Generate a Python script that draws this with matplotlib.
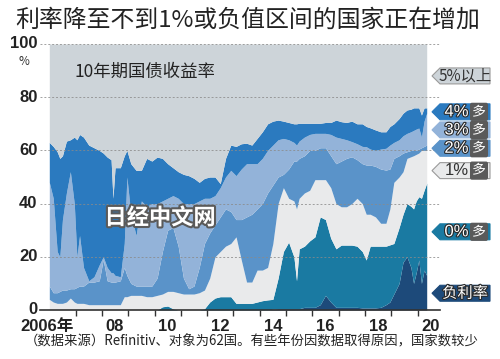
import numpy as np
import matplotlib
matplotlib.use("Agg")
import matplotlib.pyplot as plt
import matplotlib.patheffects as pe
from matplotlib.transforms import blended_transform_factory
from matplotlib.patches import Polygon

plt.rcParams['font.family'] = ['Noto Sans CJK SC', 'DejaVu Sans']

# DATA: share of countries (%), cumulative tops of each yield band
years = [2006.0, 2006.15, 2006.3, 2006.4, 2006.5, 2006.65, 2006.8, 2006.95,
         2007.05, 2007.15, 2007.3, 2007.5, 2007.7, 2007.9, 2008.05, 2008.2,
         2008.35, 2008.42, 2008.5, 2008.7, 2008.85, 2008.95, 2009.1, 2009.3,
         2009.5, 2009.7, 2009.9, 2010.1, 2010.3, 2010.5, 2010.7, 2010.9,
         2011.1, 2011.3, 2011.5, 2011.7, 2011.9, 2012.1, 2012.3, 2012.5,
         2012.7, 2012.9, 2013.1, 2013.3, 2013.5, 2013.7, 2013.9, 2014.1,
         2014.3, 2014.5, 2014.7, 2014.9, 2015.1, 2015.3, 2015.4, 2015.5,
         2015.7, 2015.9, 2016.1, 2016.3, 2016.5, 2016.7, 2016.9, 2017.1,
         2017.3, 2017.5, 2017.7, 2017.9, 2018.05, 2018.2, 2018.4, 2018.6,
         2018.8, 2018.95, 2019.1, 2019.3, 2019.45, 2019.6, 2019.75, 2019.85,
         2019.95, 2020.05, 2020.15, 2020.25, 2020.35]

neg_top = [0, 0, 0, 0, 0, 0, 0, 0,
           0, 0, 0, 0, 0, 0, 0, 0,
           0, 0, 0, 0, 0, 0, 0, 0,
           0, 0, 0, 0, 0, 0, 0, 0,
           0, 0, 0, 0, 0, 0, 0, 0,
           0, 0, 0, 0, 0, 0, 0, 0,
           0, 0.3, 0.5, 0.5, 0.5, 0.5, 0.5, 0.5,
           1, 1, 1, 2, 5.5, 3, 1, 1,
           1, 1, 1, 0.8, 0.8, 0.8, 0.8, 1,
           2, 3, 6, 10, 18, 20, 16, 10,
           14, 18.8, 10, 15, 13]

zero_top = [0, 0, 0, 0, 0, 0, 0, 0,
            0, 0, 0, 0, 0, 0, 0, 0,
            0, 0, 0, 0, 0, 0, 0, 0,
            0, 0, 0, 0, 1.2, 1.5, 0.5, 0,
            0, 0, 0, 0, 0.5, 3, 4.5, 5,
            5, 5, 2.5, 2.5, 2.5, 2.5, 3, 3.5,
            3.8, 4, 12, 22, 25.5, 20, 11, 23,
            24, 26, 27.5, 35, 34, 27, 23, 24.4,
            24.4, 24.4, 24, 22, 18.8, 24, 24, 24,
            24, 24.5, 25, 31, 36, 40, 39, 38,
            41, 42.6, 42, 45, 47.7]

one_top = [4, 3, 2.5, 2.5, 2.5, 3, 4.5, 3,
           2.5, 2.5, 2.5, 2, 2, 2, 2, 2,
           2, 2, 2, 2, 5, 5, 5.5, 5.5,
           5.5, 5, 5, 5.5, 6, 7, 7, 6.5,
           6, 6, 6, 6.5, 7.5, 12, 20, 22,
           24, 25, 27.5, 18.8, 10.5, 10.5, 15, 15,
           16, 25, 40, 46, 42, 41, 38, 42,
           44, 45, 49, 49, 49, 46, 40, 38.8,
           38.8, 40, 42, 40, 36, 36, 35, 32.6,
           32.6, 38, 48, 50, 52, 57, 57.6, 58,
           58.5, 59, 60, 60, 60]

two_top = [9, 6.5, 6.5, 7, 7.5, 7.5, 8, 8,
           8.5, 9, 9, 10.5, 10.5, 11, 19, 11,
           10.5, 10.5, 10.5, 11, 16, 13, 10, 9,
           9, 9, 9, 12, 22, 30, 31, 24,
           12, 8, 9, 16, 25, 29, 32, 35,
           38, 37, 34, 34, 35, 36, 38, 40,
           44, 47, 50, 51, 53, 56, 56, 57,
           58, 60, 60, 61, 61, 58, 55, 56,
           57, 57.6, 56.5, 55, 54.5, 54.5, 54, 53,
           52.6, 53, 57, 58, 59, 59.5, 60, 60,
           60, 60.5, 61, 61.5, 62]

three_top = [48, 42, 22, 20, 34, 44, 52, 40,
             20, 28, 16, 11, 12.5, 17, 20, 16,
             14, 14, 13, 12.5, 25, 50, 36, 28,
             41, 39, 40, 40, 41, 42, 43, 42,
             40, 40, 40, 41, 42, 42, 43, 46,
             50, 52.5, 50.5, 53, 55, 55, 55, 57,
             60, 62, 64, 64.5, 64, 63, 62, 63.5,
             65, 66, 66.4, 66.4, 66.4, 66, 65, 64.5,
             64, 63.3, 62.5, 61.5, 61.4, 60.5, 60, 60.5,
             60.8, 62, 63, 64, 65.5, 66.4, 67, 67.5,
             68, 68.4, 65, 71, 74]

four_top = [63, 61.5, 59.5, 57, 58, 63.5, 64, 65,
            64, 66, 65, 62, 61, 60, 59, 57.5,
            56.5, 42, 53.5, 53.5, 58, 60, 55, 52.5,
            52.5, 57, 56, 57.5, 57, 55, 53.5, 52,
            51, 50.5, 49.5, 48, 49.5, 50, 50, 47.5,
            57, 62, 61.5, 62.5, 62.7, 62, 64.5, 67,
            70, 71, 71.4, 71, 70.5, 70, 70, 70.2,
            70.2, 70.2, 70.2, 70.2, 70.5, 70.5, 71.4, 70.8,
            70.5, 71, 70, 70, 69, 68.5, 67.7, 67,
            67, 69, 70, 72, 74, 75.2, 75.5, 76,
            76, 76, 73.3, 76, 76]

band_labels = ['负利率', '0%', '1%', '2%', '3%', '4%', '5%以上']
band_colors = ['#1d4a7a', '#1a7aa2', '#e9eaeb', '#5a93c9', '#93b3d9',
               '#2b7abf', '#cdd4d9']
tag_levels = [6.3, 29.4, 52.4, 60.8, 67.7, 74.5, 88]

x_ticks = list(range(2007, 2021))
x_labels = ['2006年', '08', '10', '12', '14', '16', '18', '20']
x_label_pos = [2005.9, 2008.5, 2010.5, 2012.5, 2014.5, 2016.5, 2018.5, 2020.5]
y_ticks = [0, 20, 40, 60, 80, 100]

# PLOT
fig = plt.figure(figsize=(5, 3.59), dpi=100)
ax = fig.add_axes([40 / 500, 1 - 310 / 359, 400 / 500, 266 / 359])
ax.set_xlim(2006 + (40 - 49.3) / 26.3, 2006 + (440 - 49.3) / 26.3)
ax.set_ylim(0, 100)

t = np.array(years)
levels = [np.zeros(len(t)), np.array(neg_top), np.array(zero_top),
          np.array(one_top), np.array(two_top), np.array(three_top),
          np.array(four_top), np.full(len(t), 100.0)]
for i in range(7):
    ax.fill_between(t, levels[i], levels[i + 1], color=band_colors[i],
                    lw=0, zorder=1)

for y in y_ticks[1:]:
    ax.axhline(y, color='#8a8a8a', lw=0.7, ls=(0, (2, 2)), alpha=0.8,
               zorder=3)

for s in ['top', 'right', 'left']:
    ax.spines[s].set_visible(False)
ax.spines['bottom'].set_color('#333333')
ax.spines['bottom'].set_linewidth(1.2)
ax.set_xticks(x_ticks)
ax.set_xticklabels([])
ax.tick_params(axis='x', direction='out', length=4, width=1,
               color='#333333')
ax.set_yticks([])

num_font = ['Liberation Sans', 'Noto Sans CJK SC']
for lab, pos in zip(x_labels, x_label_pos):
    ax.text(pos, -3.5, lab, ha='center', va='top', fontsize=12,
            fontweight='bold', family=num_font, color='#222222')

trans_lab = blended_transform_factory(fig.transFigure, ax.transData)
for y in y_ticks:
    ax.text(37.5 / 500, y, str(y), transform=trans_lab, ha='right',
            va='center', fontsize=12, fontweight='bold', family=num_font,
            color='#222222')
ax.text(24 / 500, 93.5, '%', transform=trans_lab, ha='center',
        va='center', fontsize=8.5, color='#333333')

ax.text(2006.95, 89.6, '10年期国债收益率', ha='left', va='center',
        fontsize=12.5, color='#222222', zorder=5)

ax.text(2008.1, 34.6, '日经中文网', ha='left', va='center', fontsize=16,
        fontweight='bold', color='white', zorder=5,
        path_effects=[pe.withStroke(linewidth=3, foreground='#5a5a5a')])

# right side tags
half = 3.0
for i, (lab, yc) in enumerate(zip(band_labels, tag_levels)):
    fc = band_colors[i]
    light = i in (2, 6)
    poly = Polygon([(432 / 500, yc), (440 / 500, yc + half),
                    (490 / 500, yc + half), (490 / 500, yc - half),
                    (440 / 500, yc - half)], closed=True, facecolor=fc,
                   edgecolor='#9a9a9a' if light else fc, lw=0.8,
                   transform=trans_lab, clip_on=False, zorder=4)
    ax.add_patch(poly)
    tcol = '#333333' if light else 'white'
    eff = [] if light else [pe.withStroke(linewidth=1.6,
                                          foreground='#2a2a2a')]
    if lab in ('负利率', '5%以上'):
        ax.text(465 / 500, yc, lab, transform=trans_lab, ha='center',
                va='center', fontsize=11, color=tcol, path_effects=eff,
                clip_on=False, zorder=5)
    else:
        ax.text(456.5 / 500, yc, lab, transform=trans_lab, ha='center',
                va='center', fontsize=12, family=['Liberation Sans'],
                color=tcol, path_effects=eff, clip_on=False, zorder=5)
        ax.text(479 / 500, yc, '多', transform=trans_lab, ha='center',
                va='center', fontsize=10, color='white', clip_on=False,
                zorder=5, bbox=dict(boxstyle='round,pad=0.1',
                                    fc='#5a5a5a', ec='#5a5a5a'))

fig.text(0.03, 1 - 20 / 359, '利率降至不到1%或负值区间的国家正在增加',
         ha='left', va='center', fontsize=17.2, color='#222222')
fig.text(0.05, 1 - 341 / 359,
         '（数据来源）Refinitiv、对象为62国。有些年份因数据取得原因，国家数较少',
         ha='left', va='center', fontsize=9.6, color='#222222')

fig.savefig('out.png', dpi=100)
